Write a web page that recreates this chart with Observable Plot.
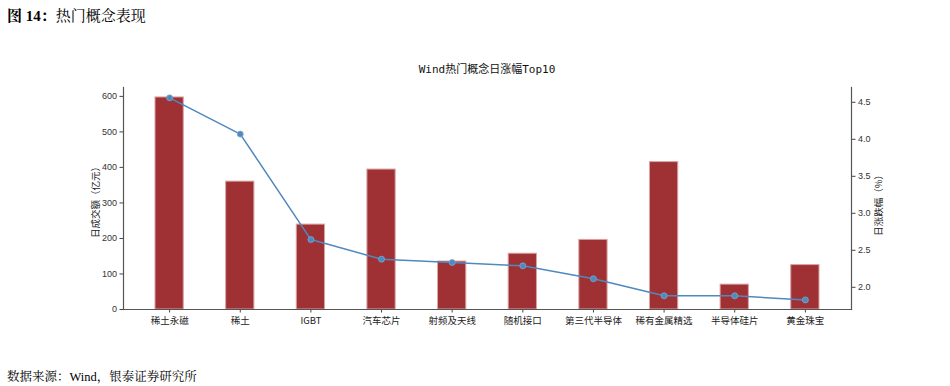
<!DOCTYPE html>
<html>
<head>
<meta charset="utf-8">
<script src="https://cdn.jsdelivr.net/npm/d3@7"></script>
<script src="https://cdn.jsdelivr.net/npm/@observablehq/plot@0.6"></script>
<style>
  body { margin: 0; background: #fff; }
  #wrap { position: relative; width: 950px; height: 386px; overflow: hidden; background: #fff; }
  #wrap svg { position: absolute; left: 0; top: 0; }
  .hdr { position: absolute; left: 7px; top: 4px; font-family: "Liberation Serif", "Noto Serif CJK SC", "Noto Sans CJK SC", serif; font-size: 15px; color: #000; }
  .hdr b { font-weight: bold; }
  .ttl { position: absolute; left: 0; width: 974px; top: 60px; text-align: center; font-family: "DejaVu Sans Mono", "Noto Sans CJK SC", monospace; font-size: 11px; color: #111; }
  .src { position: absolute; left: 7px; top: 367px; font-family: "Liberation Serif", "Noto Serif CJK SC", "Noto Sans CJK SC", serif; font-size: 12.5px; color: #000; }
  .ylab { position: absolute; font-family: "Noto Sans CJK SC", sans-serif; font-size: 9.5px; color: #222; transform-origin: center center; white-space: nowrap; }
</style>
</head>
<body>
<div id="wrap">
  <div class="hdr"><b>图 14：</b>热门概念表现</div>
  <div class="ttl">Wind热门概念日涨幅Top10</div>
  <div class="src">数据来源：Wind，银泰证券研究所</div>
</div>
<script>
const categories = ["稀土永磁", "稀土", "IGBT", "汽车芯片", "射频及天线", "随机接口", "第三代半导体", "稀有金属精选", "半导体硅片", "黄金珠宝"];
const turnover = [597, 360, 239, 394, 135, 157, 196, 415, 70, 125];   // 日成交额（亿元）
const pctChange = [4.56, 4.07, 2.645, 2.38, 2.335, 2.29, 2.115, 1.885, 1.885, 1.83]; // 日涨跌幅（%）
const leftTicks = [0, 100, 200, 300, 400, 500, 600];
const rightTicks = [2.0, 2.5, 3.0, 3.5, 4.0, 4.5];

const rows = categories.map((c, i) => ({cat: c, v: turnover[i], p: pctChange[i]}));

const W = 950, H = 386;
const margins = {marginLeft: 123, marginRight: 99, marginTop: 87, marginBottom: 77};
const xOpts = {type: "band", domain: categories, paddingInner: 0.6, paddingOuter: 0.453, round: false, label: null};
const numFont = "'Liberation Sans', Arial, sans-serif";

const bars = Plot.plot({
  width: W, height: H, ...margins,
  style: {background: "transparent", fontFamily: numFont, fontSize: "9px", color: "#333"},
  x: xOpts,
  y: {domain: [0, 625], label: null},
  marks: [
    Plot.barY(rows, {x: "cat", y: "v", fill: "#9f3134", stroke: "#d9a3a3", strokeWidth: 1}),
    Plot.axisY(leftTicks, {anchor: "left", tickSize: 3.5, tickPadding: 3, stroke: "#444", fill: "#333", fontSize: 9, label: null}),
    Plot.axisX({anchor: "bottom", tickSize: 3.5, tickPadding: 4, stroke: "#444", fill: "#222", fontSize: 9.5, fontFamily: "'Noto Sans CJK SC', sans-serif", label: null}),
    Plot.frame({anchor: "left", stroke: "#555", strokeWidth: 1.2}),
    Plot.frame({anchor: "bottom", stroke: "#555", strokeWidth: 1.2}),
    Plot.frame({anchor: "right", stroke: "#555", strokeWidth: 1.2})
  ]
});

const line = Plot.plot({
  width: W, height: H, ...margins,
  style: {background: "transparent", fontFamily: numFont, fontSize: "9px", color: "#333"},
  x: {...xOpts, axis: null},
  y: {domain: [1.70, 4.70], label: null, axis: null},
  marks: [
    Plot.lineY(rows, {x: "cat", y: "p", stroke: "#5089bd", strokeWidth: 1.5}),
    Plot.dot(rows, {x: "cat", y: "p", r: 3, fill: "#5089bd", stroke: "#7aa7d0", strokeWidth: 0.8}),
    Plot.axisY(rightTicks, {anchor: "right", tickSize: 3.5, tickPadding: 3, stroke: "#444", fill: "#333", fontSize: 9, tickFormat: d3.format(".1f"), label: null})
  ]
});

const wrap = document.getElementById("wrap");
wrap.insertBefore(bars, wrap.firstChild);
wrap.insertBefore(line, bars.nextSibling);

function addYLabel(text, cx, cy) {
  const d = document.createElement("div");
  d.className = "ylab";
  d.textContent = text;
  wrap.appendChild(d);
  const w = d.offsetWidth, h = d.offsetHeight;
  d.style.left = (cx - w / 2) + "px";
  d.style.top = (cy - h / 2) + "px";
  d.style.transform = "rotate(-90deg)";
}
addYLabel("日成交额（亿元）", 95, 200);
addYLabel("日涨跌幅（%）", 878, 203);
</script>
</body>
</html>
